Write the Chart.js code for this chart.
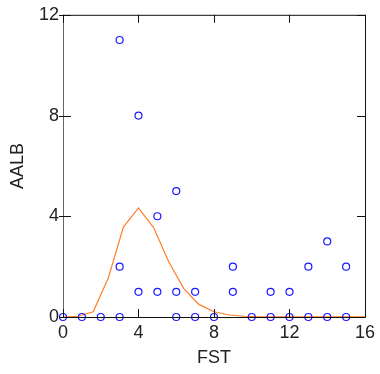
<!DOCTYPE html>
<html lang="en">
<head>
  <meta charset="UTF-8" />
  <title>AALB vs FST</title>
  <script src="https://cdn.jsdelivr.net/npm/chart.js"></script>
  <style>
    * { box-sizing: border-box; margin: 0; padding: 0; }
    body { background: #fff; width: 380px; height: 374px; overflow: hidden; }
    canvas { display: block; }
  </style>
</head>
<body>
  <canvas id="chart" width="380" height="374"></canvas>

  <script>
    // observed counts
    const fstValues  = [0, 1, 2, 3, 3, 3, 4, 4, 5, 5, 6, 6, 6, 7, 7, 8, 9, 9, 10, 11, 11, 12, 12, 13, 13, 14, 14, 15, 15];
    const aalbValues = [0, 0, 0, 0, 2, 11, 1, 8, 1, 4, 0, 1, 5, 0, 1, 0, 1, 2, 0, 0, 1, 0, 1, 0, 2, 0, 3, 0, 2];

    // fitted curve
    const curveX = [0, 0.8, 1.6, 2.4, 3.2, 4.0, 4.8, 5.6, 6.4, 7.2, 8.0, 8.8, 9.6, 10.4, 11.2, 12.0, 12.8, 13.6, 14.4, 15.2, 16.0];
    const curveY = [0, 0.03, 0.21, 1.55, 3.57, 4.33, 3.55, 2.19, 1.13, 0.5, 0.21, 0.08, 0.03, 0.01, 0.01, 0.01, 0.01, 0.01, 0.01, 0.01, 0.01];

    const xTicks = [0, 4, 8, 12, 16];
    const yTicks = [0, 4, 8, 12];

    const FONT = "'Liberation Sans', Arial, sans-serif";

    // box around the plot with ticks pointing inward
    const frame = {
      id: 'frame',
      afterDraw(chart) {
        const { ctx, chartArea: a, scales } = chart;
        ctx.save();
        ctx.lineWidth = 1;
        ctx.strokeStyle = '#111';
        ctx.beginPath();
        ctx.moveTo(a.left, a.top + 0.5); ctx.lineTo(a.right + 0.5, a.top + 0.5);
        ctx.lineTo(a.right + 0.5, a.bottom + 0.5); ctx.lineTo(a.left, a.bottom + 0.5);
        ctx.stroke();
        ctx.strokeStyle = '#666';
        ctx.beginPath();
        ctx.moveTo(a.left + 0.5, a.top); ctx.lineTo(a.left + 0.5, a.bottom + 1);
        ctx.stroke();
        ctx.strokeStyle = '#111';
        ctx.beginPath();
        xTicks.forEach(v => {
          const px = Math.round(scales.x.getPixelForValue(v)) + 0.5;
          ctx.moveTo(px, a.bottom); ctx.lineTo(px, a.bottom - 8);
          ctx.moveTo(px, a.top); ctx.lineTo(px, a.top + 8);
        });
        yTicks.forEach(v => {
          const py = Math.round(scales.y.getPixelForValue(v)) + 0.5;
          ctx.moveTo(a.left - 4, py); ctx.lineTo(a.left + 8, py);
          ctx.moveTo(a.right, py); ctx.lineTo(a.right - 8, py);
        });
        ctx.stroke();
        ctx.restore();
      }
    };

    new Chart(document.getElementById('chart'), {
      type: 'scatter',
      data: {
        datasets: [
          {
            label: 'observed',
            data: fstValues.map((x, i) => ({ x, y: aalbValues[i] })),
            pointStyle: 'circle',
            pointRadius: 3.5,
            pointBorderWidth: 1.2,
            borderColor: '#1a1aff',
            backgroundColor: 'rgba(0,0,0,0)',
            clip: false,
            order: 1
          },
          {
            label: 'fit',
            type: 'line',
            data: curveX.map((x, i) => ({ x, y: curveY[i] })),
            borderColor: '#ff7f27',
            borderWidth: 1.2,
            pointRadius: 0,
            tension: 0,
            fill: false,
            order: 2
          }
        ]
      },
      options: {
        responsive: false,
        animation: false,
        devicePixelRatio: 1,
        layout: { padding: { top: 14, right: 14, bottom: 0, left: 0 } },
        plugins: { legend: { display: false }, tooltip: { enabled: false } },
        scales: {
          x: {
            type: 'linear',
            min: 0, max: 16,
            afterBuildTicks: s => { s.ticks = xTicks.map(v => ({ value: v })); },
            afterFit: s => { s.height = 57; },
            grid: { display: false, drawTicks: false },
            border: { display: false },
            ticks: { color: '#222', padding: 5, font: { family: FONT, size: 18 } },
            title: { display: true, text: 'FST', color: '#222', padding: { top: 0, bottom: 5 }, font: { family: FONT, size: 18 } }
          },
          y: {
            type: 'linear',
            min: 0, max: 12,
            afterBuildTicks: s => { s.ticks = yTicks.map(v => ({ value: v })); },
            afterFit: s => { s.width = 63; },
            grid: { display: false, drawTicks: false },
            border: { display: false },
            ticks: { color: '#222', padding: 4, font: { family: FONT, size: 18 } },
            title: { display: true, text: 'AALB', color: '#222', padding: { top: 7, bottom: 0 }, font: { family: FONT, size: 18 } }
          }
        }
      },
      plugins: [frame]
    });
  </script>
</body>
</html>
